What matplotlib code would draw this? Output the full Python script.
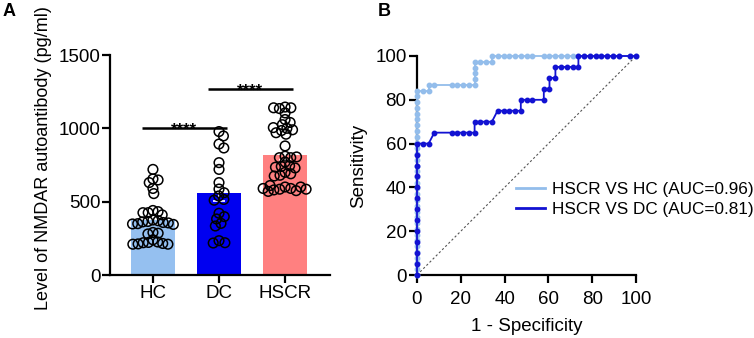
import numpy as np
import matplotlib
matplotlib.use("Agg")
import matplotlib.pyplot as plt
from matplotlib.lines import Line2D

plt.rcParams["font.family"] = ["Liberation Sans", "DejaVu Sans"]

# ---- panel A data (pg/ml) ----
groups = ["HC", "DC", "HSCR"]
bar_means = [375, 557, 818]
hc_vals = [720, 655, 648, 630, 590, 555, 440, 432, 425, 425, 410, 375, 370,
           365, 362, 358, 355, 350, 348, 345, 290, 285, 280, 240, 225, 222,
           220, 215, 212, 210, 210]
dc_vals = [978, 948, 893, 866, 766, 720, 630, 586, 561, 539, 515, 510, 421,
           398, 382, 352, 334, 234, 220, 218]
hscr_vals = [1145, 1140, 1135, 1140, 1105, 1060, 1040, 1025, 1000, 985, 990,
             970, 960, 1005, 880, 810, 800, 800, 805, 770, 745, 740, 735, 730,
             700, 690, 680, 675, 600, 590, 585, 580, 575, 600, 570, 585, 590,
             610]
sig_pairs = [(0, 1), (1, 2)]
sig_levels = [1000, 1265]
sig_text = ["****", "****"]

# ---- panel B data (%): (1 - specificity, sensitivity) ----
hc_fpr = ([0] * 33
          + [2.6, 5.3, 5.3]
          + [7.9, 15.8, 18.4, 21.1, 23.7, 26.3]
          + [26.3, 26.3, 26.3, 26.3]
          + [28.9, 31.6, 34.2]
          + [34.2, 36.8, 39.5, 42.1, 44.7, 47.4, 50.0, 52.6,
             57.9, 60.5, 63.2, 65.8, 68.4, 71.1, 73.7, 76.3,
             78.9, 81.6, 84.2, 86.8, 89.5, 92.1, 97.4, 100])
hc_tpr = ([0, 2.6, 5.3, 7.9, 10.5, 13.2, 15.8, 18.4, 21.1, 23.7, 26.3, 28.9,
           31.6, 34.2, 36.8, 39.5, 42.1, 44.7, 47.4, 50.0, 52.6, 55.3, 57.9,
           60.5, 63.2, 65.8, 68.4, 71.1, 73.7, 76.3, 78.9, 81.6, 84.2]
          + [84.2, 84.2, 86.8]
          + [86.8, 86.8, 86.8, 86.8, 86.8, 86.8]
          + [89.5, 92.1, 94.7, 97.4]
          + [97.4, 97.4, 97.4]
          + [100, 100, 100, 100, 100, 100, 100, 100,
             100, 100, 100, 100, 100, 100, 100, 100,
             100, 100, 100, 100, 100, 100, 100, 100])
dc_fpr = ([0] * 13
          + [2.6, 5.3, 7.9, 15.8, 18.4, 21.1, 23.7, 26.3, 26.3, 28.9,
             31.6, 34.2, 36.8, 39.5, 42.1, 44.7, 47.4, 47.4, 50.0,
             52.6, 57.9, 57.9, 60.5, 60.5, 63.2, 63.2, 65.8, 68.4,
             71.1, 73.7, 73.7, 76.3, 78.9, 81.6, 84.2, 86.8, 89.5,
             92.1, 97.4, 100])
dc_tpr = ([0, 5, 10, 15, 20, 25, 30, 35, 40, 45, 50, 55, 60]
          + [60, 60, 65, 65, 65, 65, 65, 65, 70, 70, 70, 70, 75, 75, 75, 75,
             75, 80, 80, 80, 80, 85, 85, 90, 90, 95, 95, 95, 95, 95, 100,
             100, 100, 100, 100, 100, 100, 100, 100, 100])
roc_labels = ["HSCR VS HC (AUC=0.96)", "HSCR VS DC (AUC=0.81)"]

bar_colors = ["#95c0f0", "#0000f0", "#ff8080"]
roc_colors = ["#93bdeb", "#1212d2"]


def swarm(vals, d_px, px_per_y, px_per_x):
    """simple beeswarm offsets (in x data units)"""
    placed = []
    offs = []
    for v in vals:
        y = v * px_per_y
        cands = [0.0]
        for (px, py) in placed:
            dy = abs(py - y)
            if dy < d_px:
                dx = np.sqrt(d_px ** 2 - dy ** 2)
                cands += [px + dx, px - dx]
        cands.sort(key=abs)
        for c in cands:
            ok = all((c - px) ** 2 + (y - py) ** 2 >= d_px ** 2 - 1e-6
                     for (px, py) in placed)
            if ok:
                break
        placed.append((c, y))
        offs.append(c / px_per_x)
    return offs


fig = plt.figure(figsize=(7.54, 3.38), dpi=100)
axA = fig.add_axes([110 / 754, 63 / 338, 220 / 754, 220 / 338])
axB = fig.add_axes([417 / 754, 63 / 338, 219 / 754, 219 / 338])

# ---- panel A ----
x = np.arange(len(groups))
axA.bar(x, bar_means, width=0.66, color=bar_colors, zorder=1)
all_vals = [hc_vals, dc_vals, hscr_vals]
spread = [5.2, 6.2, 5.8]
for i, vals in enumerate(all_vals):
    sem = np.std(vals, ddof=1) / np.sqrt(len(vals))
    axA.errorbar(i, bar_means[i], yerr=sem, color="white", capsize=4,
                 lw=1.2, capthick=1.2, zorder=2)
    offs = swarm(vals, spread[i], 220 / 1500, 65.5)
    axA.scatter(i + np.array(offs), vals, s=48, facecolors="none",
                edgecolors="black", linewidths=1.1, zorder=3, clip_on=False)

for (a, b), lvl, t in zip(sig_pairs, sig_levels, sig_text):
    x0, x1 = a - 0.17, b + 0.12
    axA.plot([x0, x1], [lvl, lvl], color="black", lw=1.8, solid_capstyle="butt")
    axA.text((x0 + x1) / 2, lvl - 45, t, ha="center", va="baseline",
             fontsize=12, fontweight="bold")

axA.set_xlim(-0.65, 2.68)
axA.set_ylim(0, 1500)
axA.set_yticks([0, 500, 1000, 1500])
axA.set_xticks(x)
axA.set_xticklabels(groups)
axA.set_ylabel("Level of NMDAR autoantibody (pg/ml)", fontsize=13)
axA.yaxis.set_label_coords(-0.262, 0.53)

# ---- panel B ----
axB.plot([0, 100], [0, 100], color="#555555", lw=0.8, ls=(0, (2, 2)), zorder=2)
axB.plot(hc_fpr, hc_tpr, "-o", color=roc_colors[0], lw=1.3, ms=3.2,
         zorder=4, clip_on=False)
axB.plot(dc_fpr, dc_tpr, "-o", color=roc_colors[1], lw=1.3, ms=3.2,
         zorder=5, clip_on=False)
axB.set_xlim(0, 100)
axB.set_ylim(0, 100)
axB.set_xticks([0, 20, 40, 60, 80, 100])
axB.set_yticks([0, 20, 40, 60, 80, 100])
axB.set_xlabel("1 - Specificity", fontsize=13.5, labelpad=7)
axB.set_ylabel("Sensitivity", fontsize=13.5, labelpad=6)
handles = [Line2D([], [], color=c, lw=2) for c in roc_colors]
fig.legend(handles, roc_labels, loc="center left",
           bbox_to_anchor=(516 / 754, 0.41), frameon=False, fontsize=12.3,
           handlelength=1.7, handletextpad=0.4, labelspacing=0.3,
           borderpad=0, borderaxespad=0)

for ax in (axA, axB):
    for s in ("top", "right"):
        ax.spines[s].set_visible(False)
    for s in ("left", "bottom"):
        ax.spines[s].set_linewidth(1.6)
    ax.tick_params(width=1.6, length=5.5, labelsize=13.5, pad=1.5)
axB.tick_params(axis="x", pad=6)
axB.tick_params(axis="y", pad=2)

fig.text(3 / 754, 1 - 3 / 338, "A", fontsize=13, fontweight="bold", va="top")
fig.text(378 / 754, 1 - 3 / 338, "B", fontsize=13, fontweight="bold", va="top")

fig.savefig("out.png", dpi=100)
